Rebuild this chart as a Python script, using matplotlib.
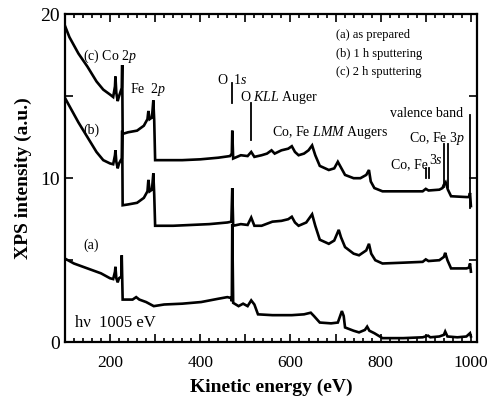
"""XPS survey spectra of the sample after successive sputtering steps."""

import matplotlib

matplotlib.use("Agg")
import matplotlib.pyplot as plt
from matplotlib.ticker import MultipleLocator

plt.rcParams["font.family"] = ["Liberation Serif", "DejaVu Serif"]
plt.rcParams["mathtext.fontset"] = "custom"
plt.rcParams["mathtext.rm"] = "Liberation Serif"
plt.rcParams["mathtext.it"] = "Liberation Serif:italic"

# (c) 2 h sputtering
energy_c = [100, 110, 130, 150, 170, 185, 200, 207, 211, 212, 214, 217, 220, 226, 227, 228,
            240, 260, 275, 283, 285, 288, 293, 296, 298, 300, 320, 360, 400, 440, 466, 470,
            471, 473, 490, 505, 513, 520, 536, 548, 558, 565, 580, 595, 603, 610, 618, 630,
            640, 648, 655, 665, 685, 697, 705, 709, 721, 740, 755, 768, 774, 778, 786, 804,
            850, 893, 900, 906, 930, 937, 940, 944, 949, 956, 990, 996, 998, 1000]
counts_c = [19.3, 18.6, 17.6, 16.8, 15.9, 15.4, 15.1, 14.95, 15.6, 16.2, 15.2, 14.7, 15.0, 15.5, 16.9, 12.7,
            12.8, 12.9, 13.2, 13.6, 14.1, 13.6, 13.7, 14.75, 13.5, 11.1, 11.1, 11.1, 11.15, 11.25, 11.35, 11.5,
            12.9, 11.2, 11.4, 11.35, 11.6, 11.3, 11.4, 11.5, 11.7, 11.5, 11.7, 11.8, 11.95, 11.6, 11.4, 11.5,
            11.7, 12.0, 11.4, 10.75, 10.5, 10.6, 11.0, 10.8, 10.2, 10.0, 10.0, 10.2, 10.5, 9.8, 9.4, 9.2,
            9.2, 9.2, 9.35, 9.25, 9.3, 9.4, 9.6, 9.75, 9.3, 8.9, 8.85, 8.85, 9.1, 8.3]

# (b) 1 h sputtering
energy_b = [100, 110, 130, 150, 170, 185, 200, 207, 211, 212, 214, 217, 220, 226, 227, 228,
            240, 260, 275, 283, 285, 288, 293, 296, 298, 300, 340, 380, 420, 460, 469,
            471, 473, 490, 505, 513, 520, 536, 560, 580, 595, 603, 610, 618, 635, 648, 655,
            665, 685, 697, 707, 712, 721, 740, 752, 768, 774, 779, 788, 804, 850, 893, 900,
            906, 930, 940, 943, 948, 956, 990, 996, 998, 1000]
counts_b = [14.9, 14.4, 13.4, 12.5, 11.6, 11.1, 10.9, 10.85, 11.4, 11.7, 11.0, 10.6, 10.9, 11.2, 12.9, 8.35,
            8.4, 8.5, 8.8, 9.2, 9.9, 9.2, 9.3, 10.3, 9.0, 7.1, 7.1, 7.15, 7.2, 7.3, 7.35,
            9.4, 7.1, 7.2, 7.15, 7.6, 7.1, 7.1, 7.35, 7.4, 7.5, 7.65, 7.3, 7.1, 7.3, 7.8, 7.1,
            6.25, 6.0, 6.2, 6.85, 6.4, 5.8, 5.4, 5.3, 5.6, 6.0, 5.4, 5.0, 4.8, 4.85, 4.9, 5.05,
            4.95, 5.0, 5.2, 5.45, 5.0, 4.5, 4.5, 4.55, 4.8, 4.3]

# (a) as prepared
energy_a = [100, 120, 150, 180, 200, 207, 211, 212, 214, 217, 220, 225, 226, 228, 250, 258,
            265, 280, 297, 320, 360, 402, 440, 460, 468, 470, 471, 473, 485, 495, 505, 513,
            520, 528, 560, 603, 630, 645, 652, 665, 690, 705, 714, 718, 721, 740, 752, 765,
            770, 775, 786, 804, 850, 893, 905, 910, 930, 940, 943, 948, 970, 990, 998, 1000]
counts_a = [5.1, 4.8, 4.5, 4.2, 3.9, 3.85, 4.3, 4.6, 3.9, 3.65, 3.9, 4.0, 5.3, 2.6, 2.6, 2.75,
            2.6, 2.45, 2.2, 2.3, 2.35, 2.45, 2.65, 2.75, 2.7, 2.5, 7.2, 2.4, 2.2, 2.35, 2.2, 2.55,
            2.3, 1.7, 1.65, 1.65, 1.7, 1.8, 1.6, 1.2, 1.15, 1.2, 1.9, 1.6, 0.9, 0.7, 0.6, 0.75,
            0.95, 0.7, 0.55, 0.25, 0.25, 0.3, 0.4, 0.3, 0.35, 0.45, 0.65, 0.35, 0.3, 0.35, 0.55, 0.35]

# peak marker lines: (energy, y bottom, y top)
markers = [(471, 14.57, 15.8), (513, 12.3, 14.6), (900, 10.0, 10.6), (907, 10.0, 10.6),
           (940, 9.45, 12.1), (949, 9.45, 12.1), (998, 8.2, 13.85)]

legend_lines = ["(a) as prepared", "(b) 1 h sputtering", "(c) 2 h sputtering"]

fig = plt.figure(figsize=(4.88, 4.05), dpi=100)
ax = fig.add_axes([0.133, 0.155, 0.844, 0.81])

for energy, counts in [(energy_a, counts_a), (energy_b, counts_b), (energy_c, counts_c)]:
    ax.plot(energy, counts, color="black", linewidth=1.9, solid_joinstyle="miter")

for x, y0, y1 in markers:
    ax.plot([x, x], [y0, y1], color="black", linewidth=1.3)

ax.set_xlim(100, 1013)
ax.set_ylim(0, 20)
ax.xaxis.set_major_locator(MultipleLocator(100))
ax.xaxis.set_minor_locator(MultipleLocator(20))
ax.xaxis.set_major_formatter(lambda v, pos: f"{v:.0f}" if v % 200 == 0 else "")
ax.yaxis.set_major_locator(MultipleLocator(5))
ax.yaxis.set_major_formatter(lambda v, pos: f"{v:.0f}" if v % 10 == 0 else "")
ax.tick_params(which="both", direction="in", top=True, right=True, width=1.2)
ax.tick_params(which="major", length=6)
ax.tick_params(which="minor", length=3)
ax.tick_params(axis="x", labelsize=12.5, pad=9)
ax.tick_params(axis="y", labelsize=14)
for spine in ax.spines.values():
    spine.set_linewidth(1.6)

ax.set_xlabel("Kinetic energy (eV)", fontsize=14, fontweight="bold", labelpad=6)
ax.set_ylabel("XPS intensity (a.u.)", fontsize=14, fontweight="bold", labelpad=6)

fs = 10
ax.text(140, 17.4, r"(c) Co $\mathit{2p}$", fontsize=fs, va="center")
ax.text(140, 12.9, "(b)", fontsize=fs, va="center")
ax.text(140, 5.9, "(a)", fontsize=fs, va="center")
ax.text(244, 15.4, r"Fe  $\mathit{2p}$", fontsize=fs, va="center")
ax.text(471, 16.0, r"O  $\mathit{1s}$", fontsize=fs, va="center", ha="center")
ax.text(489, 14.9, r"O $\mathit{KLL}$ Auger", fontsize=fs, va="center")
ax.text(560, 12.8, r"Co, Fe $\mathit{LMM}$ Augers", fontsize=fs, va="center")
ax.text(982, 13.96, "valence band", fontsize=fs, va="center", ha="right")
ax.text(862, 12.44, r"Co, Fe $\mathit{3p}$", fontsize=fs, va="center")
ax.text(822, 10.8, "Co, Fe", fontsize=fs, va="center")
ax.text(906, 11.1, r"$\mathit{3s}$", fontsize=fs, va="center")
ax.text(122, 1.16, "h\u03bd  1005 eV", fontsize=12, va="center")
for i, label in enumerate(legend_lines):
    ax.text(700, 18.7 - 1.1 * i, label, fontsize=9, va="center")

fig.savefig("out.png", dpi=100)
